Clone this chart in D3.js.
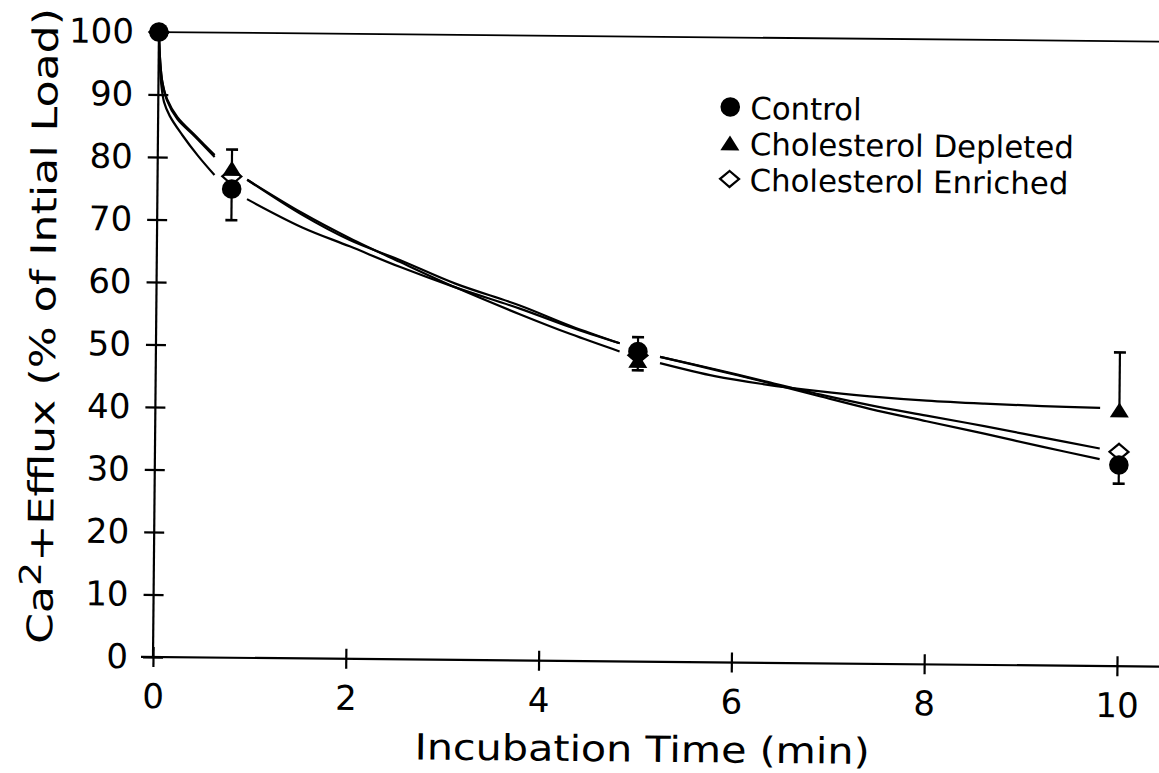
<!DOCTYPE html>
<html>
<head>
<meta charset="utf-8">
<script src="https://cdn.jsdelivr.net/npm/d3@7"></script>
<style>
  html, body { margin: 0; padding: 0; background: #fff; }
  svg { display: block; }
</style>
</head>
<body>
<svg id="chart" width="1159" height="773"></svg>
<script>
// Axis ticks
const xTicks = [0, 2, 4, 6, 8, 10];
const yTicks = [0, 10, 20, 30, 40, 50, 60, 70, 80, 90, 100];

// Sampling times (min)
const times = [0, 0.77, 5, 10];

// Measured efflux, % of initial load
const controlMean   = [100, 75, 49.6, 32.2];
const controlErrLow = [0, 5, 3, 3];          // drawn below the mean
const depletedMean  = [null, 78.3, 48.2, 41];
const depletedErrHigh = [0, 3, 3.7, 9.2];     // drawn above the mean
const enrichedMean  = [100, 77, 49, 34.3];

// Fitted decay curves ([time, %]); null separates the pieces broken around the symbols
const controlFit = [[0,100],[0.01,95.5],[0.03,91.5],[0.06,88.8],[0.12,86.6],[0.25,83.6],[0.42,80.2],[0.59,77.2], null,
  [0.93,73.4],[1.5,69],[2.0,66],[2.52,62.8],[3.1,59.6],[3.77,56.3],[4.3,53.4],[4.81,50.9], null,
  [5.23,48.8],[5.8,46.8],[6.3,45],[6.9,42.7],[7.41,40.8],[8.0,38.9],[8.6,37],[9.2,35],[9.8,33.1]];
const depletedFit = [[0,100],[0.015,95.5],[0.04,92],[0.09,89.3],[0.2,86.4],[0.4,83.3],[0.59,80.4], null,
  [0.93,76.5],[1.5,71.3],[2.0,67.3],[2.52,63.6],[3.1,59.6],[3.77,55.4],[4.3,52.3],[4.81,49.6], null,
  [5.23,47.8],[5.8,45.8],[6.3,44.6],[6.9,43.5],[7.41,42.8],[8.0,42.2],[8.6,41.8],[9.2,41.5],[9.8,41.3]];
const enrichedFit = [[0,100],[0.015,95.5],[0.04,92],[0.09,89.1],[0.2,86.1],[0.38,83.4],[0.59,80.1], null,
  [0.93,76.5],[1.5,71],[2.0,67],[2.52,63.9],[3.1,60.2],[3.77,56.8],[4.3,53.6],[4.81,50.9], null,
  [5.23,48.8],[5.8,46.9],[6.3,45.1],[6.9,43],[7.41,41.4],[8.0,39.8],[8.6,38.2],[9.2,36.5],[9.8,34.8]];

// Legend entries
const legendLabels = ["Control", "Cholesterol Depleted", "Cholesterol Enriched"];
const legendShapes = ["circle", "triangle", "diamond"];

const FONT = "'DejaVu Sans', 'Liberation Sans', sans-serif";

const svg = d3.select("#chart");
const x = d3.scaleLinear().domain([0, 10]).range([153, 1117]);
const y = d3.scaleLinear().domain([0, 100]).range([657, 32]);

// whole figure sits slightly turned, as on the printed page
const g = svg.append("g")
  .attr("transform", `rotate(0.545, ${x(0)}, ${y(0)})`);

// symbol drawing
function drawSymbol(sel, shape) {
  if (shape === "circle") {
    sel.append("circle").attr("r", 9.8).attr("fill", "#000");
  } else if (shape === "triangle") {
    sel.append("path").attr("d", "M0,-7.5L9.5,7.5L-9.5,7.5Z").attr("fill", "#000");
  } else {
    sel.append("path").attr("d", "M0,-8L9.5,0L0,8L-9.5,0Z")
      .attr("fill", "#fff").attr("stroke", "#000").attr("stroke-width", 2.2);
  }
}

// frame: x baseline, top line at 100 % and the y axis line
g.append("line")
  .attr("x1", x(0) - 12).attr("x2", 1175)
  .attr("y1", y(0)).attr("y2", y(0))
  .attr("stroke", "#000").attr("stroke-width", 2.2);
g.append("line")
  .attr("x1", x(0)).attr("x2", 1175)
  .attr("y1", y(100)).attr("y2", y(100))
  .attr("stroke", "#000").attr("stroke-width", 1.8);
g.append("line")
  .attr("x1", x(0)).attr("x2", x(0))
  .attr("y1", y(0)).attr("y2", y(100))
  .attr("stroke", "#000").attr("stroke-width", 2.2);

// x axis
const xAxis = g.append("g")
  .attr("transform", `translate(0,${y(0)})`)
  .call(d3.axisBottom(x).tickValues(xTicks).tickFormat(d3.format("d")).tickSizeOuter(0).tickSize(10).tickPadding(17));
xAxis.select(".domain").remove();
xAxis.selectAll(".tick line").attr("y1", -10).attr("y2", 10)
  .attr("stroke", "#000").attr("stroke-width", 2.2);
xAxis.selectAll(".tick text")
  .attr("font-family", FONT).attr("font-size", 34).attr("fill", "#000");

// y axis
const yAxis = g.append("g")
  .attr("transform", `translate(${x(0)},0)`)
  .call(d3.axisLeft(y).tickValues(yTicks).tickFormat(d3.format("d")).tickSizeOuter(0).tickSize(10).tickPadding(15));
yAxis.select(".domain").remove();
yAxis.selectAll(".tick line").attr("x1", -10).attr("x2", 10)
  .attr("stroke", "#000").attr("stroke-width", 2.2);
yAxis.selectAll(".tick text")
  .attr("font-family", FONT).attr("font-size", 34).attr("fill", "#000");

// axis titles
g.append("text")
  .attr("x", 643).attr("y", 757)
  .attr("text-anchor", "middle")
  .attr("font-family", FONT).attr("font-size", 36)
  .attr("textLength", 455).attr("lengthAdjust", "spacingAndGlyphs")
  .text("Incubation Time (min)");

const yTitle = g.append("text")
  .attr("transform", "translate(52,327) rotate(-90)")
  .attr("text-anchor", "middle")
  .attr("font-family", FONT).attr("font-size", 35)
  .attr("textLength", 636).attr("lengthAdjust", "spacingAndGlyphs");
yTitle.append("tspan").text("Ca");
yTitle.append("tspan").attr("dy", -12).attr("font-size", 30).text("2");
yTitle.append("tspan").attr("dy", 12).text("+Efflux (% of Intial Load)");

// fitted curves
const line = d3.line()
  .defined(d => d !== null)
  .x(d => x(d[0])).y(d => y(d[1]))
  .curve(d3.curveCatmullRom.alpha(0.5));
[controlFit, depletedFit, enrichedFit].forEach(fit => {
  g.append("path")
    .attr("d", line(fit))
    .attr("fill", "none").attr("stroke", "#000")
    .attr("stroke-width", 2.2).attr("stroke-linejoin", "round");
});

// error bars
function errorBar(t, from, to) {
  g.append("line")
    .attr("x1", x(t)).attr("x2", x(t))
    .attr("y1", y(from)).attr("y2", y(to))
    .attr("stroke", "#000").attr("stroke-width", 2.2);
  g.append("line")
    .attr("x1", x(t) - 6).attr("x2", x(t) + 6)
    .attr("y1", y(to)).attr("y2", y(to))
    .attr("stroke", "#000").attr("stroke-width", 2.6);
}
times.forEach((t, i) => {
  if (controlErrLow[i] > 0) errorBar(t, controlMean[i], controlMean[i] - controlErrLow[i]);
  if (depletedMean[i] !== null && depletedErrHigh[i] > 0) errorBar(t, depletedMean[i], depletedMean[i] + depletedErrHigh[i]);
});

// data symbols: enriched underneath, then depleted, then control
times.forEach((t, i) => {
  if (enrichedMean[i] !== null)
    drawSymbol(g.append("g").attr("transform", `translate(${x(t)},${y(enrichedMean[i])})`), "diamond");
});
times.forEach((t, i) => {
  if (depletedMean[i] !== null)
    drawSymbol(g.append("g").attr("transform", `translate(${x(t)},${y(depletedMean[i])})`), "triangle");
});
times.forEach((t, i) => {
  if (controlMean[i] !== null)
    drawSymbol(g.append("g").attr("transform", `translate(${x(t)},${y(controlMean[i])})`), "circle");
});

// legend
const legend = g.append("g").attr("transform", "translate(725,101.5)");
legendLabels.forEach((label, i) => {
  const row = legend.append("g").attr("transform", `translate(0,${i * 36})`);
  drawSymbol(row.append("g"), legendShapes[i]);
  row.append("text")
    .attr("x", 20).attr("y", 12)
    .attr("font-family", FONT).attr("font-size", 30.8).attr("fill", "#000")
    .text(label);
});
</script>
</body>
</html>
